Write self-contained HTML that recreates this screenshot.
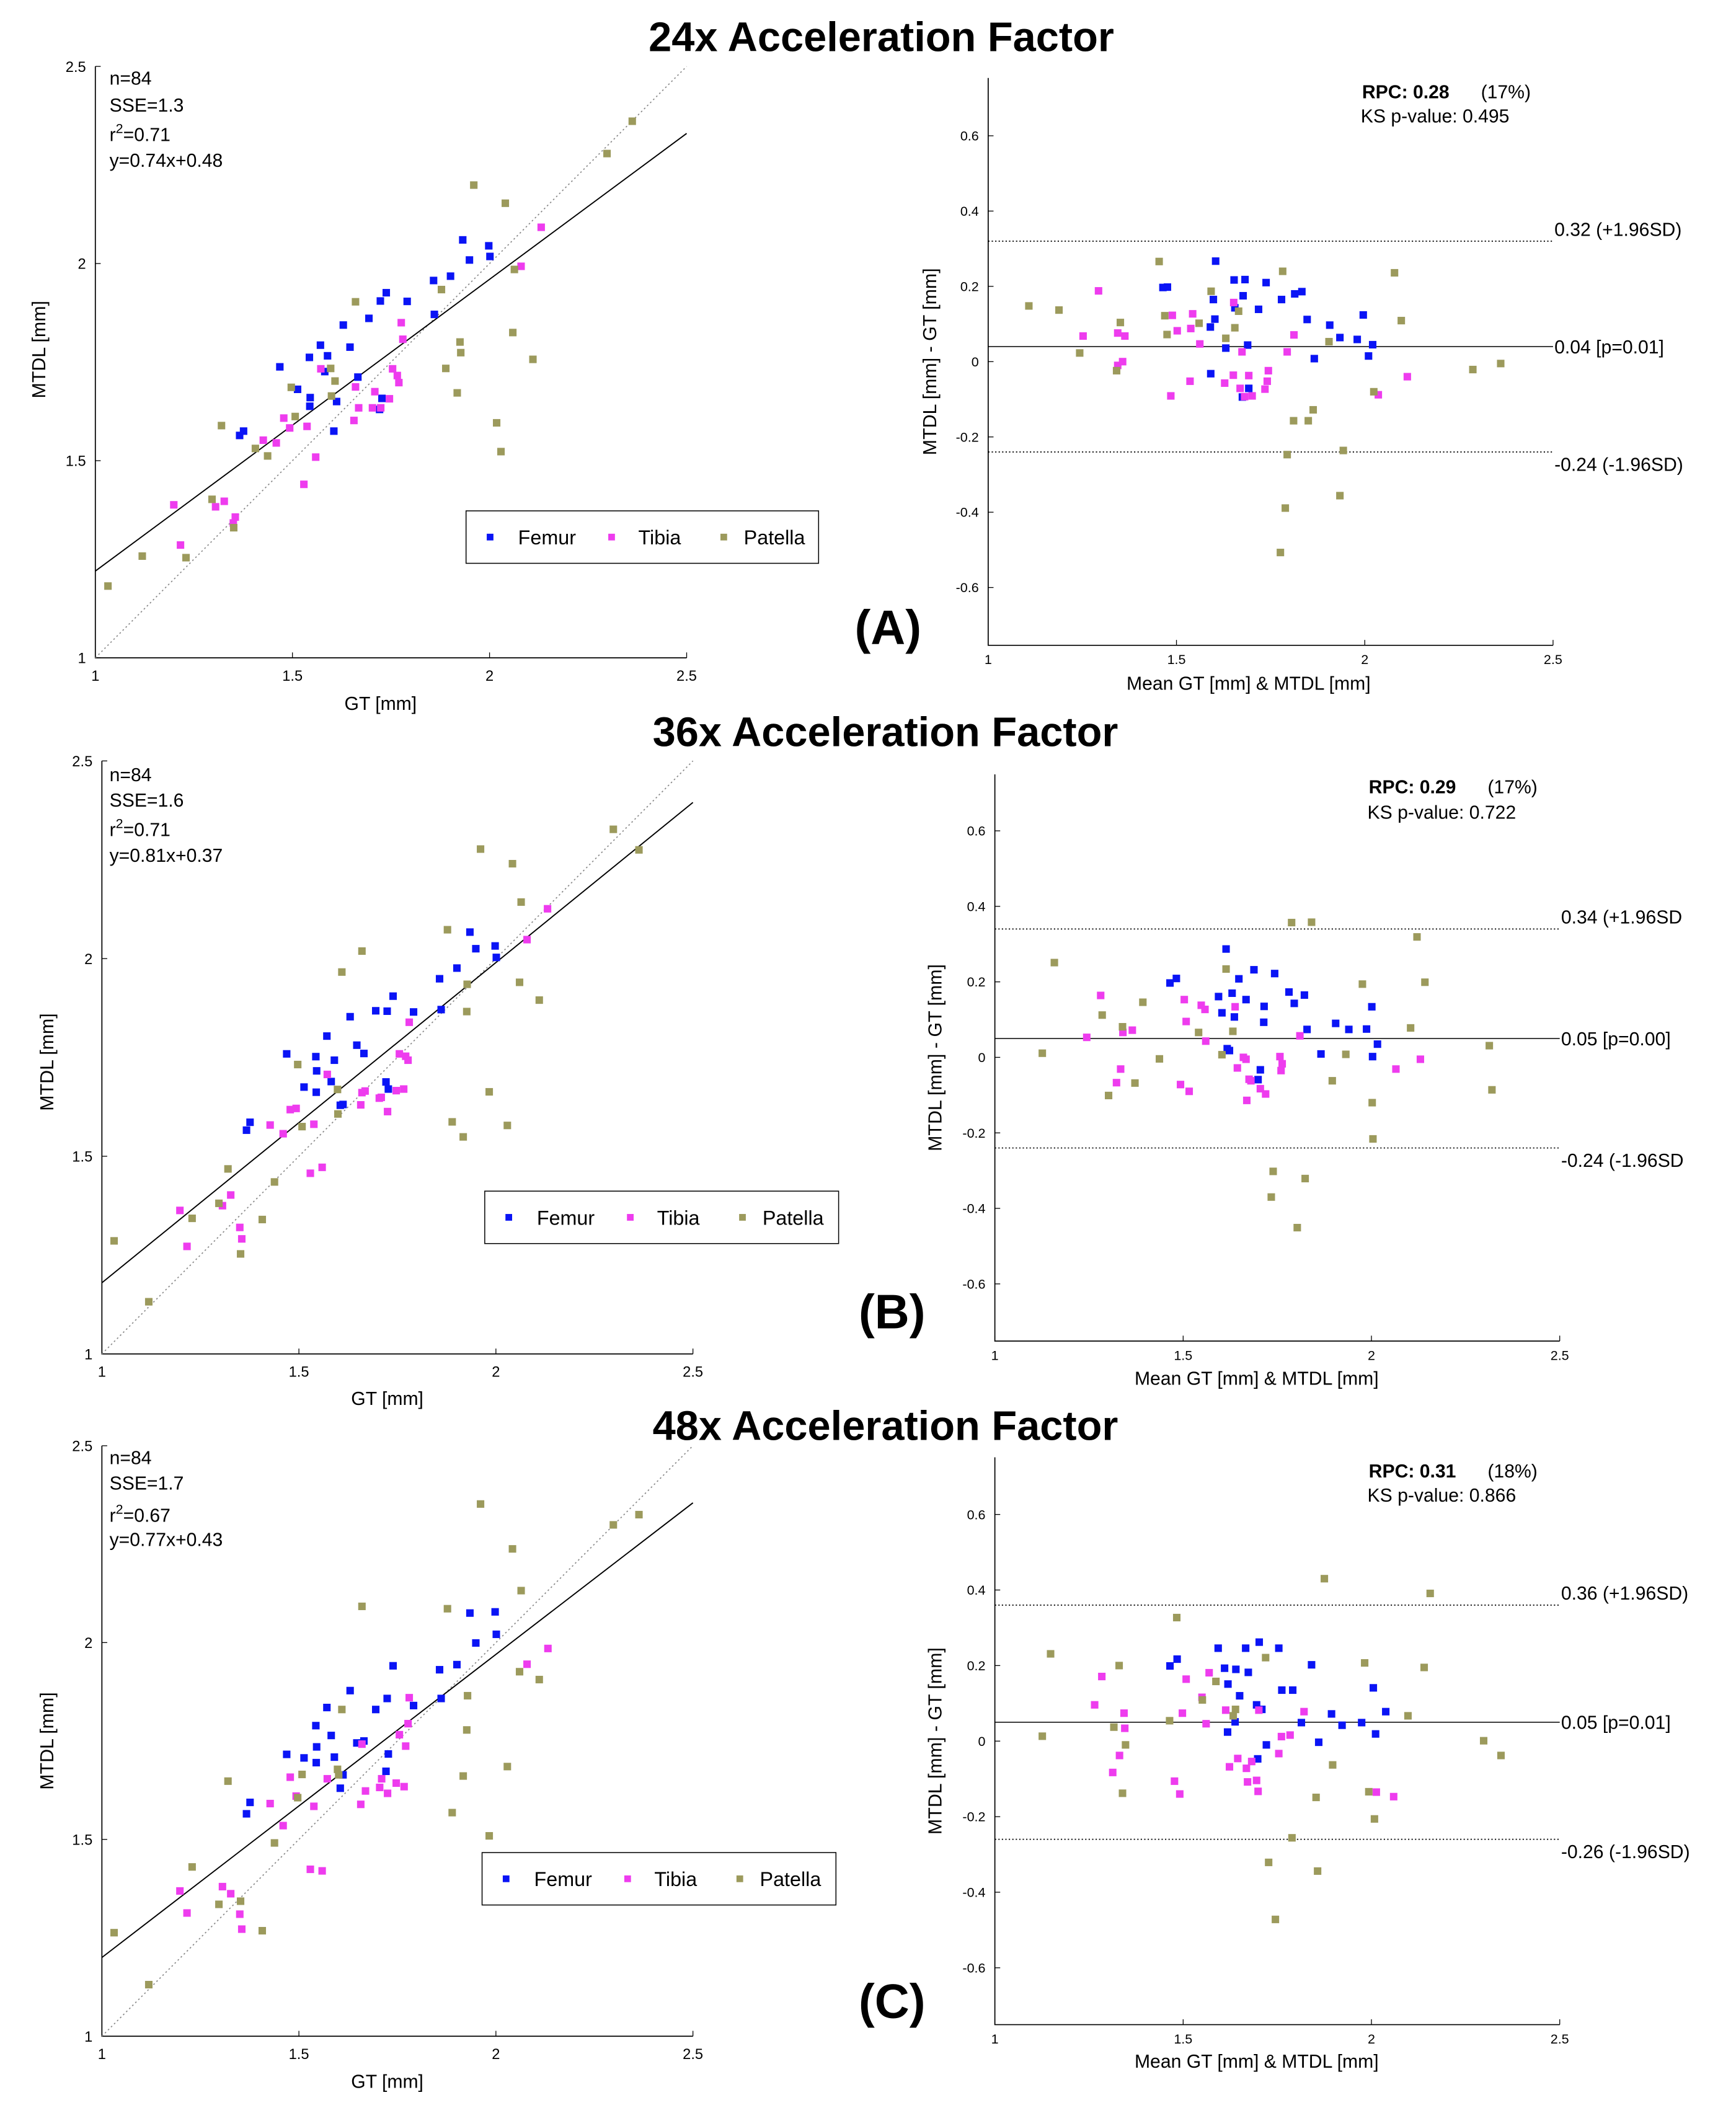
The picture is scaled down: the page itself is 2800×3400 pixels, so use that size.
<!DOCTYPE html>
<html><head><meta charset="utf-8"><style>
html,body{margin:0;padding:0;background:#fff;}
svg{display:block;font-family:"Liberation Sans",Arial,sans-serif;}
</style></head>
<body>
<svg id="fig" xmlns="http://www.w3.org/2000/svg" width="2800" height="3400" viewBox="0 0 1300 1568" preserveAspectRatio="none">
<rect x="0" y="0" width="1300" height="1568" fill="#fff"/>
<text x="660" y="38" font-size="31" font-weight="bold" text-anchor="middle">24x Acceleration Factor</text>
<text x="663" y="555" font-size="31" font-weight="bold" text-anchor="middle">36x Acceleration Factor</text>
<text x="663" y="1071" font-size="31" font-weight="bold" text-anchor="middle">48x Acceleration Factor</text>
<text x="665" y="479" font-size="36" font-weight="bold" text-anchor="middle">(A)</text>
<text x="668" y="988" font-size="36" font-weight="bold" text-anchor="middle">(B)</text>
<text x="668" y="1501" font-size="36" font-weight="bold" text-anchor="middle">(C)</text>
<g id="plots"></g>
</svg>
<script>
// ---------- Data: 24x scatter ----------
const a24FemurGT=[1.932,1.998,2.001,1.949,1.901,1.858,1.738,1.723,1.791,1.860,1.694,1.629,1.646,1.571,1.543,1.589,1.582,1.468,1.513,1.666,1.545,1.544,1.612,1.727,1.721,1.605,1.376,1.366];
const a24FemurMTDL=[2.060,2.045,2.018,2.009,1.968,1.957,1.926,1.905,1.904,1.871,1.861,1.844,1.788,1.793,1.762,1.766,1.726,1.738,1.681,1.712,1.660,1.638,1.650,1.658,1.630,1.575,1.575,1.564];
const a24TibiaGT=[2.131,2.080,1.776,1.780,1.572,1.754,1.766,1.770,1.660,1.709,1.746,1.668,1.703,1.724,1.478,1.493,1.537,1.656,1.426,1.459,1.559,1.529,1.199,1.327,1.305,1.355,1.350,1.216];
const a24TibiaMTDL=[2.092,1.993,1.850,1.808,1.733,1.733,1.716,1.698,1.687,1.675,1.657,1.634,1.634,1.634,1.608,1.583,1.587,1.602,1.552,1.545,1.509,1.440,1.388,1.397,1.383,1.357,1.342,1.286];
const a24PatellaGT=[2.362,2.298,1.960,2.040,2.063,1.878,1.660,1.925,2.059,1.927,2.110,1.889,1.597,1.608,1.497,1.599,1.918,1.507,1.320,2.018,2.029,1.406,1.437,1.296,1.351,1.119,1.230,1.032];
const a24PatellaMTDL=[2.361,2.279,2.199,2.153,1.985,1.934,1.903,1.801,1.825,1.774,1.757,1.734,1.734,1.702,1.686,1.664,1.672,1.612,1.589,1.596,1.523,1.531,1.512,1.402,1.330,1.258,1.254,1.182];
// ---------- Data: 24x Bland-Altman ----------
const b24FemurMean=[1.604,1.464,1.476,1.653,1.682,1.738,1.598,1.677,1.779,1.814,1.833,1.655,1.718,1.602,1.590,1.847,1.907,1.996,1.934,1.980,2.021,1.689,1.631,1.866,2.010,1.591,1.692,1.675];
const b24FemurDiff=[0.267,0.197,0.198,0.217,0.218,0.210,0.165,0.175,0.165,0.180,0.186,0.143,0.139,0.113,0.092,0.112,0.097,0.124,0.064,0.059,0.045,0.044,0.036,0.008,0.015,-0.032,-0.071,-0.094];
const b24TibiaMean=[1.293,1.652,1.489,1.543,1.252,1.344,1.363,1.502,1.538,1.562,1.812,1.674,1.794,1.357,1.344,1.744,2.113,1.692,1.651,1.536,1.628,1.741,1.669,1.735,1.485,1.681,1.701,2.036];
const b24TibiaDiff=[0.188,0.157,0.123,0.127,0.068,0.076,0.068,0.082,0.088,0.047,0.071,0.026,0.026,0.000,-0.010,-0.024,-0.040,-0.037,-0.036,-0.052,-0.057,-0.052,-0.071,-0.073,-0.091,-0.093,-0.091,-0.088];
const b24PatellaMean=[1.454,1.782,2.079,1.108,1.188,1.592,1.469,1.665,1.351,2.097,1.560,1.475,1.655,1.631,1.905,1.243,1.341,2.361,2.287,2.024,1.863,1.811,1.850,1.943,1.794,1.934,1.789,1.776];
const b24PatellaDiff=[0.266,0.240,0.236,0.148,0.137,0.187,0.122,0.134,0.104,0.109,0.102,0.072,0.090,0.062,0.053,0.023,-0.024,-0.005,-0.021,-0.080,-0.128,-0.157,-0.157,-0.236,-0.247,-0.356,-0.389,-0.507];
// ---------- Data: 36x scatter ----------
const a36FemurGT=[1.934,1.998,2.001,1.949,1.901,1.857,1.739,1.695,1.724,1.791,1.861,1.630,1.571,1.647,1.665,1.469,1.543,1.590,1.545,1.582,1.513,1.544,1.721,1.727,1.605,1.612,1.376,1.367];
const a36FemurMTDL=[2.067,2.032,2.003,2.025,1.976,1.949,1.905,1.868,1.867,1.865,1.871,1.853,1.804,1.781,1.760,1.759,1.752,1.743,1.716,1.689,1.675,1.662,1.688,1.670,1.629,1.631,1.586,1.566];
const a36TibiaGT=[2.131,2.079,1.780,1.755,1.771,1.777,1.572,1.660,1.668,1.747,1.766,1.704,1.709,1.657,1.725,1.478,1.493,1.427,1.460,1.538,1.559,1.529,1.327,1.306,1.198,1.350,1.355,1.216];
const a36TibiaMTDL=[2.126,2.048,1.839,1.759,1.753,1.743,1.707,1.661,1.665,1.666,1.670,1.647,1.649,1.630,1.613,1.618,1.621,1.579,1.557,1.581,1.472,1.457,1.402,1.375,1.363,1.320,1.291,1.272];
const a36PatellaGT=[2.298,2.363,1.961,2.042,2.064,1.877,1.660,1.609,1.927,2.060,1.926,2.110,1.497,1.598,1.983,1.599,1.508,1.889,2.029,1.917,1.320,1.438,1.297,1.229,1.407,1.031,1.352,1.119];
const a36PatellaMTDL=[2.327,2.275,2.277,2.240,2.143,2.073,2.019,1.966,1.935,1.940,1.866,1.895,1.732,1.669,1.663,1.607,1.575,1.587,1.578,1.549,1.468,1.435,1.381,1.343,1.340,1.286,1.253,1.132];
// ---------- Data: 36x Bland-Altman ----------
const b36FemurMean=[1.614,1.688,1.743,1.465,1.482,1.648,1.594,1.630,1.667,1.781,1.822,1.795,1.715,1.603,1.636,1.714,2.001,1.905,1.829,1.940,1.987,2.016,1.617,1.623,1.866,2.003,1.705,1.699];
const b36FemurDiff=[0.287,0.232,0.222,0.197,0.209,0.208,0.161,0.170,0.153,0.173,0.165,0.143,0.135,0.118,0.107,0.093,0.134,0.090,0.074,0.074,0.075,0.035,0.023,0.018,0.009,0.002,-0.033,-0.059];
const b36TibiaMean=[1.281,1.503,1.548,1.558,1.638,1.508,1.340,1.365,1.244,1.560,1.810,1.660,1.667,1.757,1.763,1.760,1.644,1.334,2.065,2.130,1.323,1.493,1.516,1.675,1.680,1.705,1.719,1.669];
const b36TibiaDiff=[0.164,0.153,0.138,0.127,0.134,0.095,0.066,0.072,0.053,0.043,0.057,0.000,-0.005,0.002,-0.017,-0.035,-0.028,-0.031,-0.031,-0.005,-0.067,-0.072,-0.090,-0.058,-0.062,-0.083,-0.097,-0.114];
const b36PatellaMean=[1.788,1.841,2.121,1.158,1.614,1.976,2.142,1.393,1.285,1.339,2.104,1.541,1.632,1.126,1.437,1.603,1.932,2.313,1.372,1.302,1.896,2.320,2.002,2.004,1.739,1.824,1.734,1.803];
const b36PatellaDiff=[0.357,0.358,0.319,0.251,0.234,0.194,0.199,0.146,0.112,0.081,0.078,0.066,0.069,0.011,-0.004,0.007,0.008,0.031,-0.068,-0.101,-0.062,-0.086,-0.120,-0.216,-0.302,-0.321,-0.370,-0.451];
// ---------- Data: 48x scatter ----------
const a48FemurGT=[1.934,1.998,2.001,1.949,1.901,1.857,1.739,1.630,1.724,1.695,1.791,1.861,1.571,1.543,1.582,1.545,1.647,1.665,1.469,1.513,1.590,1.544,1.727,1.721,1.612,1.605,1.376,1.367];
const a48FemurMTDL=[2.075,2.078,2.021,1.999,1.944,1.931,1.941,1.878,1.858,1.830,1.840,1.858,1.835,1.789,1.764,1.735,1.745,1.750,1.716,1.707,1.709,1.695,1.717,1.673,1.664,1.630,1.594,1.565];
const a48TibiaGT=[2.132,2.079,1.780,1.777,1.755,1.771,1.660,1.478,1.572,1.710,1.705,1.747,1.767,1.669,1.725,1.493,1.427,1.538,1.657,1.460,1.529,1.559,1.198,1.306,1.327,1.216,1.350,1.355];
const a48TibiaMTDL=[1.985,1.945,1.860,1.794,1.766,1.737,1.742,1.658,1.654,1.654,1.632,1.643,1.634,1.623,1.617,1.610,1.591,1.584,1.589,1.535,1.424,1.420,1.369,1.380,1.362,1.313,1.310,1.272];
const a48PatellaGT=[1.961,2.298,2.363,2.042,2.064,1.660,1.877,2.060,2.110,1.928,1.609,1.926,2.029,1.598,1.508,1.917,1.320,1.497,1.889,1.983,1.438,1.229,1.352,1.297,1.407,1.031,1.119,1.601];
const a48PatellaMTDL=[2.352,2.299,2.325,2.238,2.132,2.092,2.086,1.926,1.906,1.865,1.830,1.778,1.685,1.678,1.665,1.661,1.648,1.606,1.568,1.509,1.491,1.430,1.343,1.335,1.268,1.263,1.131,1.664];
// ---------- Data: 48x Bland-Altman ----------
const b48FemurMean=[1.702,1.593,1.666,1.754,1.465,1.484,1.610,1.640,1.673,1.841,1.619,1.762,1.791,2.005,1.650,1.695,1.709,1.894,2.038,1.638,1.814,1.922,1.974,1.618,2.011,1.860,1.721,1.698];
const b48FemurDiff=[0.262,0.246,0.246,0.246,0.199,0.217,0.193,0.190,0.182,0.202,0.151,0.135,0.135,0.141,0.120,0.096,0.084,0.072,0.078,0.051,0.049,0.042,0.049,0.024,0.019,-0.003,-0.010,-0.047];
const b48TibiaMean=[1.284,1.569,1.508,1.550,1.265,1.613,1.701,1.821,1.343,1.498,1.561,1.345,1.761,1.784,1.754,1.331,1.645,1.682,1.623,1.668,1.313,1.695,1.671,1.477,1.699,1.491,2.013,2.059];
const b48TibiaDiff=[0.171,0.181,0.164,0.116,0.096,0.082,0.082,0.078,0.074,0.074,0.046,0.034,0.012,0.016,-0.033,-0.038,-0.046,-0.054,-0.068,-0.072,-0.083,-0.104,-0.108,-0.106,-0.133,-0.140,-0.135,-0.147];
const b48PatellaMean=[1.875,2.156,1.483,1.148,1.330,1.719,1.982,2.140,1.587,1.551,1.639,1.633,2.097,1.464,1.316,1.126,2.298,1.347,2.344,1.897,1.339,1.853,1.993,2.008,1.789,1.727,1.857,1.745];
const b48PatellaDiff=[0.430,0.391,0.327,0.231,0.200,0.221,0.207,0.195,0.158,0.109,0.084,0.067,0.067,0.054,0.037,0.013,0.001,-0.010,-0.038,-0.063,-0.138,-0.149,-0.134,-0.206,-0.256,-0.321,-0.344,-0.472];
// ---------- Fits & limits ----------
const fitSlopes=[0.74,0.81,0.77];
const fitIntercepts=[0.48,0.37,0.43];
const meanDiffs=[0.04,0.05,0.05];
const upperLoA=[0.32,0.34,0.36];
const lowerLoA=[-0.24,-0.24,-0.26];
const statN=["n=84","n=84","n=84"];
const statSSE=["SSE=1.3","SSE=1.6","SSE=1.7"];
const statR2=["0.71","0.71","0.67"];
const statEq=["y=0.74x+0.48","y=0.81x+0.37","y=0.77x+0.43"];
const rpcText=["RPC: 0.28","RPC: 0.29","RPC: 0.31"];
const rpcPct=["(17%)","(17%)","(18%)"];
const ksText=["KS p-value: 0.495","KS p-value: 0.722","KS p-value: 0.866"];
const meanLabels=["0.04 [p=0.01]","0.05 [p=0.00]","0.05 [p=0.01]"];
const upperLabels=["0.32 (+1.96SD)","0.34 (+1.96SD","0.36 (+1.96SD)"];
const lowerLabels=["-0.24 (-1.96SD)","-0.24 (-1.96SD","-0.26 (-1.96SD)"];
const scatterTicks=[1,1.5,2,2.5];
const scatterTickLabels=["1","1.5","2","2.5"];
const baTicksY=[0.6,0.4,0.2,0,-0.2,-0.4,-0.6];
const baTickLabelsY=["0.6","0.4","0.2","0","-0.2","-0.4","-0.6"];
const baTicksX=[1,1.5,2,2.5];
const baTickLabelsX=["1","1.5","2","2.5"];
const seriesNames=["Femur","Tibia","Patella"];
const COLORS=["#0a14f5","#ee3cee","#9c9a5c"];

const scatterData=[
 [[a24FemurGT,a24FemurMTDL],[a24TibiaGT,a24TibiaMTDL],[a24PatellaGT,a24PatellaMTDL]],
 [[a36FemurGT,a36FemurMTDL],[a36TibiaGT,a36TibiaMTDL],[a36PatellaGT,a36PatellaMTDL]],
 [[a48FemurGT,a48FemurMTDL],[a48TibiaGT,a48TibiaMTDL],[a48PatellaGT,a48PatellaMTDL]]];
const baData=[
 [[b24FemurMean,b24FemurDiff],[b24TibiaMean,b24TibiaDiff],[b24PatellaMean,b24PatellaDiff]],
 [[b36FemurMean,b36FemurDiff],[b36TibiaMean,b36TibiaDiff],[b36PatellaMean,b36PatellaDiff]],
 [[b48FemurMean,b48FemurDiff],[b48TibiaMean,b48TibiaDiff],[b48PatellaMean,b48PatellaDiff]]];

// layout (pixel geometry)
const scatterLayout=[
 {x0:71.4,x1:514.2,y0:489.3,y1:49.4,leg:[349,380,264,39],glx:285,gly:528,mlx:34,mly:260,tx:82,ty:[63,83,105,124]},
 {x0:76.3,x1:518.9,y0:1007.1,y1:566,leg:[363,886,265,39],glx:290,gly:1045,mlx:40,mly:790,tx:82,ty:[581,600,622,641]},
 {x0:76.3,x1:518.9,y0:1514.6,y1:1075.4,leg:[361,1378,265,39],glx:290,gly:1553,mlx:40,mly:1295,tx:82,ty:[1089,1108,1132,1150]}];
const baLayout=[
 {x0:740,x1:1163,yz:269,yu:101,ybot:480,ytop:58,rx:1020,ry:73,ky:91,lx:1164,xl:935,xly:513,myl:701},
 {x0:745,x1:1168,yz:786.5,yu:618,ybot:997.5,ytop:576,rx:1025,ry:590,ky:609,lx:1169,xl:941,xly:1030,myl:705},
 {x0:745,x1:1168,yz:1295.1,yu:1126.5,ybot:1506,ytop:1084,rx:1025,ry:1099,ky:1117,lx:1169,xl:941,xly:1538,myl:705}];

const NS="http://www.w3.org/2000/svg";
const root=document.getElementById('plots');
function mk(tag,attrs,parent){const e=document.createElementNS(NS,tag);for(const k in attrs)e.setAttribute(k,attrs[k]);(parent||root).appendChild(e);return e;}
function txt(s,attrs,parent){const e=mk('text',attrs,parent);e.textContent=s;return e;}
const MS=5.6;

function drawScatter(i){
 const L=scatterLayout[i];
 const g=mk('g',{});
 
 
 const sx=v=>L.x0+(v-1)*(L.x1-L.x0)/1.5;
 const sy=v=>L.y0-(v-1)*(L.y0-L.y1)/1.5;
 const ax=mk('path',{d:`M${L.x0},${L.y1} L${L.x0},${L.y0} L${L.x1},${L.y0}`,fill:'none',stroke:'#000','stroke-width':0.8},g);
 
 
 scatterTicks.forEach((t,k)=>{
  mk('line',{x1:L.x0,y1:sy(t),x2:L.x0+4,y2:sy(t),stroke:'#000','stroke-width':0.6},g);
  mk('line',{x1:sx(t),y1:L.y0,x2:sx(t),y2:L.y0-4,stroke:'#000','stroke-width':0.6},g);
  const yl=txt(scatterTickLabels[k],{x:L.x0-7,y:sy(t)+4,'font-size':11,'text-anchor':'end'},g);
  
  
  const xl=txt(scatterTickLabels[k],{x:sx(t),y:L.y0+17,'font-size':11,'text-anchor':'middle'},g);
  
  
 });
 const idl=mk('line',{x1:sx(1),y1:sy(1),x2:sx(2.5),y2:sy(2.5),stroke:'#888','stroke-width':0.8,'stroke-dasharray':'1.2,2'},g);
 
 
 const fl=mk('line',{x1:sx(1),y1:sy(fitSlopes[i]+fitIntercepts[i]),x2:sx(2.5),y2:sy(fitSlopes[i]*2.5+fitIntercepts[i]),stroke:'#000','stroke-width':0.9},g);
 
 
 scatterData[i].forEach((s,si)=>{
  s[0].forEach((x,k)=>{
   const r=mk('rect',{x:sx(x)-MS/2,y:sy(s[1][k])-MS/2,width:MS,height:MS,fill:COLORS[si]},g);
   
   
  });
 });
 const st=[statN[i],statSSE[i],null,statEq[i]];
 [0,1,3].forEach(k=>{const t=txt(st[k],{x:L.tx,y:L.ty[k],'font-size':14},g);
  
  });
 const r2=mk('text',{x:L.tx,y:L.ty[2],'font-size':14},g);
 
 
 r2.innerHTML='r<tspan dy="-6" font-size="10">2</tspan><tspan dy="6">='+statR2[i]+'</tspan>';
 const lg=mk('g',{},g);
 
 
 const [lx,ly,lw,lh]=L.leg;
 mk('rect',{x:lx,y:ly,width:lw,height:lh,fill:'#fff',stroke:'#000','stroke-width':0.7},lg);
 const offs=[[18,39],[109,129],[193,208]];
 seriesNames.forEach((n,si)=>{
  const m=mk('rect',{x:lx+offs[si][0]-2.5,y:ly+lh/2-2.5,width:5,height:5,fill:COLORS[si]},lg);
  
  
  const t=txt(n,{x:lx+offs[si][1],y:ly+lh/2+5.5,'font-size':15},lg);
  
  
 });
 const xt=txt('GT [mm]',{x:L.glx,y:L.gly,'font-size':14,'text-anchor':'middle'},g);
 
 
 const yt=txt('MTDL [mm]',{x:L.mlx,y:L.mly,'font-size':14,'text-anchor':'middle',transform:`rotate(-90 ${L.mlx} ${L.mly})`},g);
 
 
}

function drawBA(i){
 const L=baLayout[i];
 const g=mk('g',{});
 
 
 const sx=v=>L.x0+(v-1)*(L.x1-L.x0)/1.5;
 const sy=v=>L.yz-v*(L.yz-L.yu)/0.6;
 const ax=mk('path',{d:`M${L.x0},${L.ytop} L${L.x0},${L.ybot} L${L.x1},${L.ybot}`,fill:'none',stroke:'#000','stroke-width':0.8},g);
 
 
 baTicksY.forEach((t,k)=>{
  mk('line',{x1:L.x0,y1:sy(t),x2:L.x0+4,y2:sy(t),stroke:'#000','stroke-width':0.6},g);
  const yl=txt(baTickLabelsY[k],{x:L.x0-7,y:sy(t)+3.5,'font-size':10,'text-anchor':'end'},g);
  
  
 });
 baTicksX.forEach((t,k)=>{
  mk('line',{x1:sx(t),y1:L.ybot,x2:sx(t),y2:L.ybot-4,stroke:'#000','stroke-width':0.6},g);
  const xl=txt(baTickLabelsX[k],{x:sx(t),y:L.ybot+14,'font-size':10,'text-anchor':'middle'},g);
  
  
 });
 const lines=[[upperLoA[i],'1,1.6',upperLabels[i],'upper-limit'],[meanDiffs[i],null,meanLabels[i],'mean-difference'],[lowerLoA[i],'1,1.6',lowerLabels[i],'lower-limit']];
 lines.forEach(([v,d,lab,nm],k)=>{
  const a={x1:L.x0,y1:sy(v),x2:L.x1,y2:sy(v),stroke:'#000','stroke-width':d?0.8:0.7};
  if(d)a['stroke-dasharray']=d;
  const ln=mk('line',a,g);
  
  
  const ly=k===0?sy(v)-4:(k===1?sy(v)+5:sy(v)+14);
  const t=txt(lab,{x:L.lx,y:ly,'font-size':14},g);
  
  
 });
 baData[i].forEach((s,si)=>{
  s[0].forEach((x,k)=>{
   const r=mk('rect',{x:sx(x)-MS/2,y:sy(s[1][k])-MS/2,width:MS,height:MS,fill:COLORS[si]},g);
   
   
  });
 });
 const rp=txt(rpcText[i],{x:L.rx,y:L.ry,'font-size':14,'font-weight':'bold'},g);
 
 
 const pc=txt(rpcPct[i],{x:L.rx+89,y:L.ry,'font-size':14},g);
 
 
 const ks=txt(ksText[i],{x:L.rx-1,y:L.ky,'font-size':14},g);
 
 
 const xt=txt('Mean GT [mm] & MTDL [mm]',{x:L.xl,y:L.xly,'font-size':14,'text-anchor':'middle'},g);
 
 
 const my=(L.ytop+L.ybot)/2;
 const yt=txt('MTDL [mm] - GT [mm]',{x:L.myl,y:my,'font-size':14,'text-anchor':'middle',transform:`rotate(-90 ${L.myl} ${my})`},g);
 
 
}
for(let i=0;i<3;i++){drawScatter(i);drawBA(i);}
</script>
</body></html>
